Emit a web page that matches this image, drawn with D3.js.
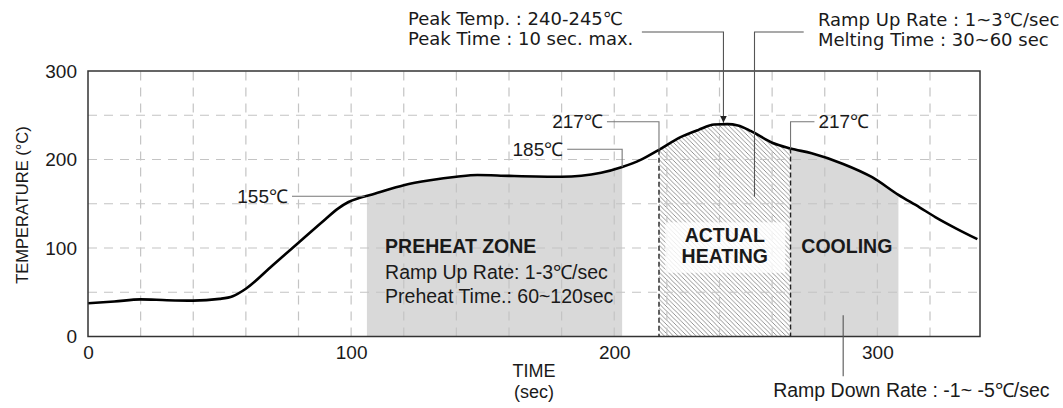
<!DOCTYPE html>
<html>
<head>
<meta charset="utf-8">
<title>Reflow profile</title>
<script src="https://cdn.jsdelivr.net/npm/d3@7"></script>
<style>
    body { margin: 0; background: #fff; }
    svg text { font-family: "Liberation Sans", Arial, sans-serif; fill: #1a1a1a; }
    .note { font-family: "DejaVu Sans", sans-serif; }
</style>
</head>
<body>
<script>

    // size of the picture
    var w = 1063;
    var h = 408;

    // reflow curve (sec, degC)
    var timeSec = [0, 10, 20, 30, 40, 50, 55, 60, 70, 80, 90, 95, 99, 103, 108, 120, 130, 140, 148, 160, 180,
                   195, 203, 210, 217, 225, 232, 238, 243, 247, 252, 260, 267, 275, 287, 298, 308, 316, 322, 330, 338];
    var tempC = [37.5, 39.5, 42, 41, 40.5, 42.5, 45.5, 54, 80, 106, 132, 144.5, 152, 156.5, 160.5, 171, 176.5, 180.5, 182.5, 181.5, 180.5,
                 185, 191.5, 199.5, 211, 225, 233.5, 239.5, 240, 238.5, 232, 219, 212.5, 207, 195, 180, 160, 146, 135, 122, 110];

    // ticks and grid
    var xTicks = [0, 100, 200, 300];
    var yTicks = [0, 100, 200, 300];
    var xGrid = d3.range(20, 340, 20);
    var yGrid = [50, 100, 150, 200, 250];

    // zones (sec)
    var zoneNames = ["preheat", "actual", "cooling"];
    var zoneStart = [106, 217, 267];
    var zoneEnd = [203, 267, 308];

    // zone captions: text, time, temp, bold, anchor
    var captionText = ["PREHEAT ZONE", "Ramp Up Rate: 1-3\u2103/sec", "Preheat Time.: 60~120sec", "ACTUAL", "HEATING", "COOLING"];
    var captionTime = [112.9, 112.9, 112.9, 242, 242, 288.4];
    var captionTemp = [102.6, 73.2, 45.8, 114.7, 90.2, 101.5];
    var captionBold = [true, false, false, true, true, true];
    var captionAnchor = ["start", "start", "start", "middle", "middle", "middle"];

    // temperature call outs: label, label end time, level, time where it meets the curve
    var calloutText = ["155\u2103", "185\u2103", "217\u2103", "217\u2103"];
    var calloutTime = [76, 180.6, 195.7, 277.6];
    var calloutTemp = [158.5, 211.5, 242.7, 242.7];
    var calloutHit = [105, 203, 217, 267];
    var calloutAnchor = ["end", "end", "end", "start"];

    // note texts outside the plot
    var peakText = ["Peak Temp. : 240-245\u2103", "Peak Time : 10 sec. max."];
    var meltText = ["Ramp Up Rate : 1~3\u2103/sec", "Melting Time : 30~60 sec"];
    var downText = "Ramp Down Rate : -1~ -5\u2103/sec";

    var xScale = d3.scaleLinear().domain([0, 339]).range([88, 980]);
    var yScale = d3.scaleLinear().domain([0, 300]).range([336.5, 71]);

    var svg = d3.select("body")
                .append("svg")
                .attr("width", w)
                .attr("height", h);

    var defs = svg.append("defs");

    // hatch for the actual heating zone
    var hatch = defs.append("pattern")
        .attr("id", "hatch")
        .attr("patternUnits", "userSpaceOnUse")
        .attr("width", 4.5)
        .attr("height", 4.5);
    hatch.append("rect").attr("width", 4.5).attr("height", 4.5).attr("fill", "#fff");
    hatch.append("path")
        .attr("d", "M-1,-1 L5.5,5.5 M-1,3.5 L1,5.5 M3.5,-1 L5.5,1")
        .attr("stroke", "#707070")
        .attr("stroke-width", 0.75);

    defs.append("marker")
        .attr("id", "arrow")
        .attr("viewBox", "0 0 10 10")
        .attr("refX", 10).attr("refY", 5)
        .attr("markerWidth", 7).attr("markerHeight", 7)
        .attr("markerUnits", "userSpaceOnUse")
        .attr("orient", "auto")
        .append("path").attr("d", "M0,0 L10,5 L0,10 z").attr("fill", "#222");

    var points = timeSec.map(function (t, i) { return [t, tempC[i]]; });

    var area = d3.area()
        .x(function (d) { return xScale(d[0]); })
        .y0(yScale(0))
        .y1(function (d) { return yScale(d[1]); })
        .curve(d3.curveMonotoneX);

    var line = d3.line()
        .x(function (d) { return xScale(d[0]); })
        .y(function (d) { return yScale(d[1]); })
        .curve(d3.curveMonotoneX);

    // zone fills, clipped out of the area under the curve
    zoneNames.forEach(function (name, i) {
        defs.append("clipPath").attr("id", "clip-" + name)
            .append("rect")
            .attr("x", xScale(zoneStart[i]))
            .attr("y", 0)
            .attr("width", xScale(zoneEnd[i]) - xScale(zoneStart[i]))
            .attr("height", yScale(0));
        svg.append("path")
            .datum(points)
            .attr("clip-path", "url(#clip-" + name + ")")
            .attr("d", area)
            .attr("fill", name == "actual" ? "url(#hatch)" : "#d9d9d9");
    });

    // grid
    svg.append("g").selectAll("line")
        .data(yGrid).enter().append("line")
        .attr("x1", xScale(0)).attr("x2", xScale(339))
        .attr("y1", function (d) { return yScale(d); })
        .attr("y2", function (d) { return yScale(d); })
        .attr("stroke", "#c4c4c4").attr("stroke-width", 1.2)
        .attr("stroke-dasharray", "9,7");
    svg.append("g").selectAll("line")
        .data(xGrid).enter().append("line")
        .attr("x1", function (d) { return xScale(d); })
        .attr("x2", function (d) { return xScale(d); })
        .attr("y1", yScale(0)).attr("y2", yScale(300))
        .attr("stroke", "#c4c4c4").attr("stroke-width", 1.2)
        .attr("stroke-dasharray", "9,7");

    // light box behind ACTUAL HEATING
    svg.append("rect")
        .attr("x", xScale(219.4))
        .attr("y", yScale(129))
        .attr("width", xScale(265) - xScale(219.4))
        .attr("height", yScale(72) - yScale(129))
        .attr("fill", "#fff")
        .attr("opacity", 0.82);

    // the curve
    var curve = svg.append("path")
        .datum(points)
        .attr("d", line)
        .attr("fill", "none")
        .attr("stroke", "#000")
        .attr("stroke-width", 2.6);

    // find y of the drawn curve at a time
    var curveNode = curve.node();
    var curveLen = curveNode.getTotalLength();
    var curveY = function (t) {
        var px = xScale(t), lo = 0, hi = curveLen;
        for (var k = 0; k < 40; k++) {
            var mid = (lo + hi) / 2;
            if (curveNode.getPointAtLength(mid).x < px) lo = mid; else hi = mid;
        }
        return curveNode.getPointAtLength(lo).y;
    };

    // dashed borders of the actual heating zone
    [zoneStart[1], zoneEnd[1]].forEach(function (t) {
        svg.append("line")
            .attr("x1", xScale(t)).attr("x2", xScale(t))
            .attr("y1", curveY(t)).attr("y2", yScale(0))
            .attr("stroke", "#222").attr("stroke-width", 1.4)
            .attr("stroke-dasharray", "5,3");
    });

    // frame
    svg.append("rect")
        .attr("x", xScale(0)).attr("y", yScale(300))
        .attr("width", xScale(339) - xScale(0))
        .attr("height", yScale(0) - yScale(300))
        .attr("fill", "none").attr("stroke", "#333").attr("stroke-width", 1.5);

    // axes
    var xAxis = svg.append("g")
        .attr("transform", "translate(0," + yScale(0) + ")")
        .call(d3.axisBottom(xScale).tickValues(xTicks).tickSize(0).tickPadding(9));
    var yAxis = svg.append("g")
        .attr("transform", "translate(" + xScale(0) + ",0)")
        .call(d3.axisLeft(yScale).tickValues(yTicks).tickSize(0).tickPadding(11));
    svg.selectAll(".domain").remove();
    svg.selectAll(".tick text")
        .attr("font-family", "Liberation Sans, Arial, sans-serif")
        .attr("font-size", "19px")
        .attr("fill", "#1a1a1a");

    svg.append("text")
        .attr("transform", "translate(22," + 205 + ") rotate(-90)")
        .attr("text-anchor", "middle")
        .attr("dy", "0.35em")
        .attr("font-size", "16.5px")
        .text("TEMPERATURE (\u00b0C)");
    svg.append("text")
        .attr("x", 534).attr("y", 377)
        .attr("text-anchor", "middle")
        .attr("font-size", "18px")
        .text("TIME");
    svg.append("text")
        .attr("x", 534).attr("y", 398)
        .attr("text-anchor", "middle")
        .attr("font-size", "18px")
        .text("(sec)");

    // zone captions
    svg.append("g").selectAll("text")
        .data(captionText).enter().append("text")
        .attr("x", function (d, i) { return xScale(captionTime[i]); })
        .attr("y", function (d, i) { return yScale(captionTemp[i]); })
        .attr("dy", "0.35em")
        .attr("text-anchor", function (d, i) { return captionAnchor[i]; })
        .attr("font-weight", function (d, i) { return captionBold[i] ? "bold" : "normal"; })
        .attr("font-size", "19.5px")
        .text(function (d) { return d; });

    // temperature call outs
    calloutText.forEach(function (label, i) {
        var gap = calloutAnchor[i] == "end" ? 4 : -4;
        var x0 = xScale(calloutTime[i]) + gap;
        var yl = yScale(calloutTemp[i]);
        var xh = xScale(calloutHit[i]);
        svg.append("polyline")
            .attr("points", [[x0, yl], [xh, yl], [xh, curveY(calloutHit[i])]].join(" "))
            .attr("fill", "none").attr("stroke", "#777").attr("stroke-width", 1.1);
        svg.append("text")
            .attr("x", xScale(calloutTime[i]))
            .attr("y", yl)
            .attr("dy", "0.35em")
            .attr("text-anchor", calloutAnchor[i])
            .attr("font-size", "19px")
            .text(label);
    });

    // peak call out with arrow
    svg.append("polyline")
        .attr("points", [[xScale(210.5), yScale(344)], [xScale(241.5), yScale(344)], [xScale(241.5), curveY(241.5) - 1.5]].join(" "))
        .attr("fill", "none").attr("stroke", "#555").attr("stroke-width", 1.1)
        .attr("marker-end", "url(#arrow)");
    svg.append("g").selectAll("text")
        .data(peakText).enter().append("text")
        .attr("class", "note")
        .attr("x", xScale(121.6))
        .attr("y", function (d, i) { return 25 + i * 20; })
        .attr("font-size", "18px")
        .text(function (d) { return d; });

    // ramp up / melting call out
    svg.append("polyline")
        .attr("points", [[xScale(272), yScale(344)], [xScale(253.3), yScale(344)], [xScale(253.3), yScale(158)]].join(" "))
        .attr("fill", "none").attr("stroke", "#555").attr("stroke-width", 1.1);
    svg.append("g").selectAll("text")
        .data(meltText).enter().append("text")
        .attr("class", "note")
        .attr("x", xScale(277.4))
        .attr("y", function (d, i) { return 26 + i * 20; })
        .attr("font-size", "18px")
        .text(function (d) { return d; });

    // ramp down call out
    svg.append("line")
        .attr("x1", xScale(287)).attr("x2", xScale(287))
        .attr("y1", yScale(24)).attr("y2", yScale(-45))
        .attr("stroke", "#555").attr("stroke-width", 1.1);
    svg.append("text")
        .attr("x", xScale(260.4))
        .attr("y", 397)
        .attr("font-size", "19.5px")
        .text(downText);

</script>
</body>
</html>
